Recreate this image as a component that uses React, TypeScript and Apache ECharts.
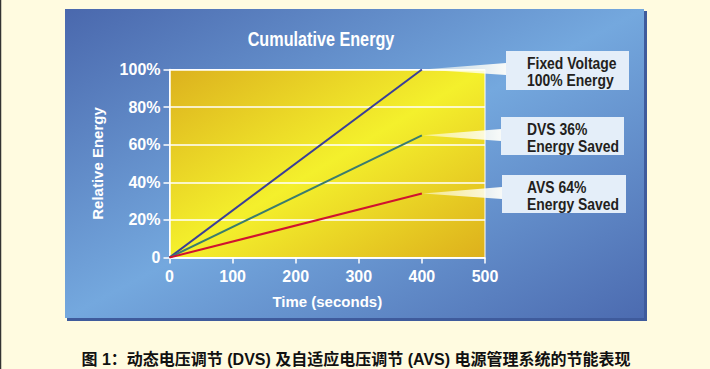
import React, { useEffect, useRef } from "react";
import * as echarts from "echarts";

// ---- data ----
const chartTitle = "Cumulative Energy";
const xAxisName = "Time (seconds)";
const yAxisName = "Relative Energy";
const xTicks = [0, 100, 200, 300, 400, 500];
const yTicks = [0, 20, 40, 60, 80, 100];
const seriesNames = ["Fixed Voltage", "DVS", "AVS"];
const timePoints = [0, 400];
const fixedValues = [0, 100];
const dvsValues = [0, 65];
const avsValues = [0, 34];
const calloutTexts = [
  "Fixed Voltage\n100% Energy",
  "DVS 36%\nEnergy Saved",
  "AVS 64%\nEnergy Saved",
];
const caption = "图 1：动态电压调节 (DVS) 及自适应电压调节 (AVS) 电源管理系统的节能表现";

const seriesColors = ["#3a3f98", "#3a7c6e", "#d0122f"];
const FONT = "'Liberation Sans', Arial, sans-serif";

export default function App() {
  const ref = useRef<HTMLDivElement>(null);
  useEffect(() => {
    const chart = echarts.init(ref.current!, null, { renderer: "svg" });
    const allValues = [fixedValues, dvsValues, avsValues];
    const seriesData = allValues.map((vals) => timePoints.map((t, i) => [t, vals[i]]));

    const axisText = { color: "#ffffff", fontFamily: FONT, fontWeight: "bold" as const };

    chart.setOption({
      animation: false,
      backgroundColor: "#fffbe0",
      grid: {
        left: 169.5,
        right: 225,
        top: 69.5,
        bottom: 111.5,
        show: true,
        borderColor: "#ffffff",
        borderWidth: 1,
        backgroundColor: new echarts.graphic.LinearGradient(0, 0, 1, 1, [
          { offset: 0, color: "#dcb11e" },
          { offset: 0.5, color: "#f4f02c" },
          { offset: 1, color: "#ddb01c" },
        ]),
      },
      xAxis: {
        type: "value",
        min: xTicks[0],
        max: xTicks[xTicks.length - 1],
        interval: xTicks[1] - xTicks[0],
        name: xAxisName,
        nameLocation: "middle",
        nameGap: 36,
        nameTextStyle: { ...axisText, fontSize: 15 },
        axisLine: { lineStyle: { color: "#ffffff", width: 1.5 } },
        axisTick: { show: true, length: 6, lineStyle: { color: "#ffffff", width: 1.5 } },
        splitLine: { show: false },
        axisLabel: { ...axisText, fontSize: 16, margin: 11 },
      },
      yAxis: {
        type: "value",
        min: yTicks[0],
        max: yTicks[yTicks.length - 1],
        interval: yTicks[1] - yTicks[0],
        name: yAxisName,
        nameLocation: "middle",
        nameGap: 65,
        nameRotate: 90,
        nameTextStyle: { ...axisText, fontSize: 15 },
        axisLine: { show: true, lineStyle: { color: "#ffffff", width: 1.5 } },
        axisTick: { show: true, length: 6, lineStyle: { color: "#ffffff", width: 1.5 } },
        splitLine: { show: true, lineStyle: { color: "#ffffff", width: 1.5 } },
        axisLabel: {
          ...axisText,
          fontSize: 16,
          margin: 9,
          formatter: (v: number) => (v === 0 ? "0" : v + "%"),
        },
      },
      series: seriesData.map((d, i) => ({
        name: seriesNames[i],
        type: "line",
        data: d,
        symbol: "none",
        lineStyle: { color: seriesColors[i], width: 2 },
        z: 3,
      })),
    });

    const ends = seriesData.map((d) =>
      chart.convertToPixel({ gridIndex: 0 }, d[d.length - 1]) as number[]
    );
    const boxes = [
      { x: 506, y: 51, w: 123, h: 39 },
      { x: 501, y: 117, w: 123, h: 38 },
      { x: 502, y: 175, w: 124, h: 38 },
    ];

    const graphics: any[] = [
      { type: "line", z: -20, shape: { x1: 0.5, y1: 0, x2: 0.5, y2: 369 }, style: { stroke: "#333333", lineWidth: 1.5 } },
      { type: "rect", z: -20, shape: { x: 67, y: 11, width: 580, height: 310 }, style: { fill: "#3f5b9c" } },
      {
        type: "rect",
        z: -19,
        shape: { x: 65, y: 9, width: 579, height: 309 },
        style: {
          fill: new echarts.graphic.LinearGradient(0, 0, 1, 1, [
            { offset: 0, color: "#4a68ad" },
            { offset: 0.5, color: "#74a8de" },
            { offset: 1, color: "#4c6bb0" },
          ]),
        },
      },
      {
        type: "text",
        z: 7,
        x: 321,
        y: 39,
        scaleX: 0.81,
        style: {
          text: chartTitle,
          fill: "#ffffff",
          font: `bold 20px ${FONT}`,
          align: "center",
          verticalAlign: "middle",
        },
      },
    ];
    boxes.forEach((b, i) => {
      const e = ends[i];
      graphics.push({
        type: "polygon",
        z: 5,
        shape: { points: [[e[0] + 1, e[1]], [b.x, b.y + 12], [b.x, b.y + 24]] },
        style: {
          fill: new echarts.graphic.LinearGradient(0, 0, 1, 0, [
            { offset: 0, color: "rgba(255,255,240,0.5)" },
            { offset: 1, color: "rgba(255,255,250,0.95)" },
          ]),
        },
      });
      graphics.push({
        type: "rect",
        z: 6,
        shape: { x: b.x, y: b.y, width: b.w, height: b.h },
        style: { fill: "#e4eef9" },
      });
      graphics.push({
        type: "text",
        z: 7,
        x: 527,
        y: b.y + b.h / 2 + 1,
        scaleX: 0.82,
        style: {
          text: calloutTexts[i],
          fill: "#231f20",
          font: `bold 17px ${FONT}`,
          lineHeight: 17,
          verticalAlign: "middle",
          align: "left",
        },
      });
    });
    graphics.push({
      type: "text",
      z: 7,
      x: 356,
      y: 359,
      style: {
        text: caption,
        fill: "#111111",
        font: "bold 16px 'Liberation Sans', 'Noto Sans CJK SC', sans-serif",
        align: "center",
        verticalAlign: "middle",
      },
    });
    chart.setOption({ graphic: graphics });

    return () => chart.dispose();
  }, []);
  return (
    <div
      ref={ref}
      style={{ position: "fixed", left: 0, top: 0, width: 710, height: 369 }}
    />
  );
}
